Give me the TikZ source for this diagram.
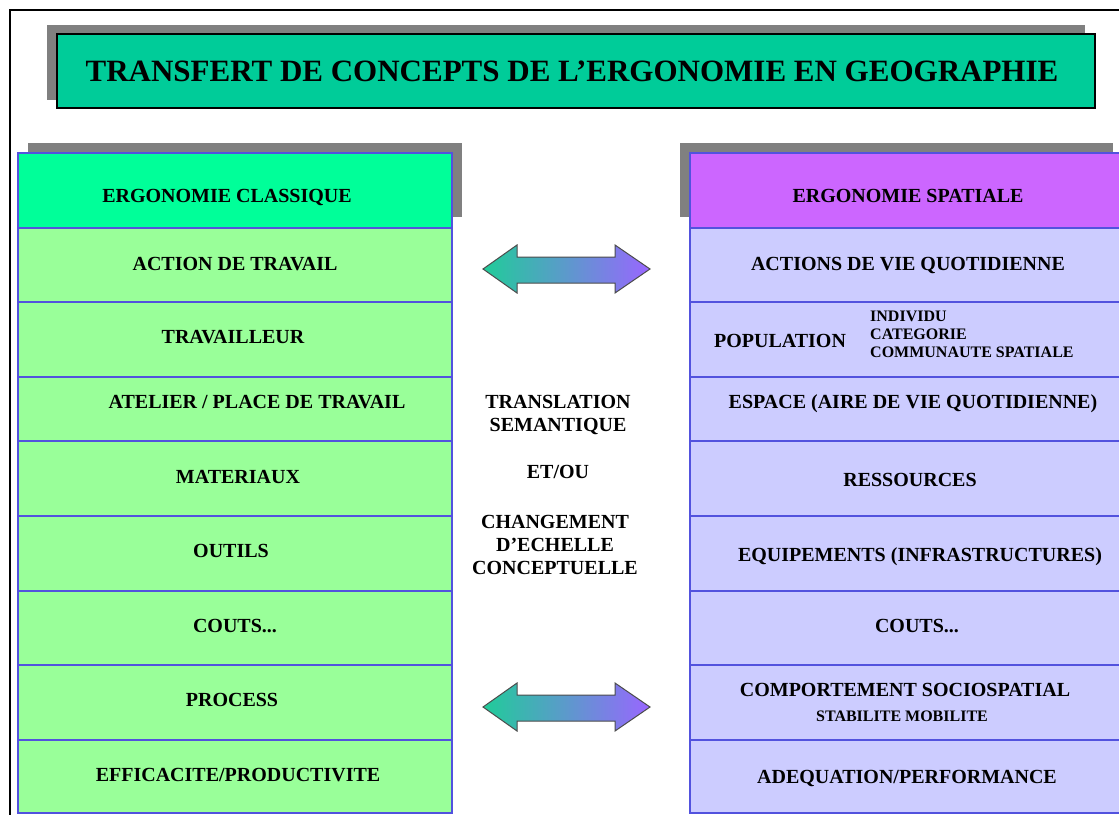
\documentclass[tikz,border=0pt]{standalone}
\usepackage{fontspec}
\setmainfont{Liberation Serif}
\usepackage{xcolor}

\definecolor{titlegreen}{HTML}{00CC99}
\definecolor{headgreen}{HTML}{00FF99}
\definecolor{cellgreen}{HTML}{99FF99}
\definecolor{headviolet}{HTML}{CC66FF}
\definecolor{cellviolet}{HTML}{CCCCFF}
\definecolor{gridblue}{HTML}{5252DE}
\definecolor{shadowgray}{HTML}{808080}
\definecolor{arrowgreen}{HTML}{20CC99}
\definecolor{arrowviolet}{HTML}{9966FF}

\tikzset{
	celltext/.style={font=\fontsize{20}{23}\selectfont\bfseries, align=center, inner sep=0pt, text height=13pt, text depth=0pt},
	smalltext/.style={font=\fontsize{16}{18}\selectfont\bfseries, align=left, inner sep=0pt, text height=10.5pt, text depth=0pt},
	cellbox/.style={draw=gridblue, line width=1.6pt},
	exchange/.style={draw=black!70, line width=1pt, left color=arrowgreen, right color=arrowviolet}
}

\begin{document}
\begin{tikzpicture}[x=1pt, y=-1pt]
	\clip (0,0) rectangle (1119,814);
	\fill[white] (0,0) rectangle (1119,814);
	\draw[line width=2pt] (9.5,820) -- (9.5,9.5) -- (1125,9.5);

	% title
	\fill[shadowgray] (47,25) rectangle (1085,100);
	\draw[fill=titlegreen, line width=1.5pt] (57,34) rectangle (1095,108);
	\node[celltext, font=\fontsize{31}{34}\selectfont\bfseries, text height=20pt] (title) at (572,71) {TRANSFERT DE CONCEPTS DE L'ERGONOMIE EN GEOGRAPHIE};

	% left column
	\fill[shadowgray] (28,143) rectangle (462,217);
	\draw[cellbox, fill=headgreen] (18,153) rectangle (452,228);
	\draw[cellbox, fill=cellgreen] (18,228) rectangle (452,302);
	\draw[cellbox, fill=cellgreen] (18,302) rectangle (452,377);
	\draw[cellbox, fill=cellgreen] (18,377) rectangle (452,441);
	\draw[cellbox, fill=cellgreen] (18,441) rectangle (452,516);
	\draw[cellbox, fill=cellgreen] (18,516) rectangle (452,591);
	\draw[cellbox, fill=cellgreen] (18,591) rectangle (452,665);
	\draw[cellbox, fill=cellgreen] (18,665) rectangle (452,740);
	\draw[cellbox, fill=cellgreen] (18,740) rectangle (452,813);

	\node[celltext] (classique) at (227,196) {ERGONOMIE CLASSIQUE};
	\node[celltext] (action) at (235,264) {ACTION DE TRAVAIL};
	\node[celltext] (travailleur) at (233,337) {TRAVAILLEUR};
	\node[celltext] (atelier) at (257,402) {ATELIER / PLACE DE TRAVAIL};
	\node[celltext] (materiaux) at (238,477) {MATERIAUX};
	\node[celltext] (outils) at (231,551) {OUTILS};
	\node[celltext] (coutsL) at (235,626) {COUTS...};
	\node[celltext] (process) at (232,700) {PROCESS};
	\node[celltext] (efficacite) at (238,775) {EFFICACITE/PRODUCTIVITE};

	% right column
	\fill[shadowgray] (680,143) rectangle (1113,217);
	\draw[cellbox, fill=headviolet] (690,153) rectangle (1125,228);
	\draw[cellbox, fill=cellviolet] (690,228) rectangle (1125,302);
	\draw[cellbox, fill=cellviolet] (690,302) rectangle (1125,377);
	\draw[cellbox, fill=cellviolet] (690,377) rectangle (1125,441);
	\draw[cellbox, fill=cellviolet] (690,441) rectangle (1125,516);
	\draw[cellbox, fill=cellviolet] (690,516) rectangle (1125,591);
	\draw[cellbox, fill=cellviolet] (690,591) rectangle (1125,665);
	\draw[cellbox, fill=cellviolet] (690,665) rectangle (1125,740);
	\draw[cellbox, fill=cellviolet] (690,740) rectangle (1125,813);

	\node[celltext] (spatiale) at (908,196) {ERGONOMIE SPATIALE};
	\node[celltext] (vie) at (908,264) {ACTIONS DE VIE QUOTIDIENNE};
	\node[celltext] (population) at (780,341) {POPULATION};
	\node[smalltext, anchor=west] (echelons) at (870,352) {INDIVIDU\\CATEGORIE\\COMMUNAUTE SPATIALE};
	\node[celltext] (espace) at (913,402) {ESPACE (AIRE DE VIE QUOTIDIENNE)};
	\node[celltext] (ressources) at (910,480) {RESSOURCES};
	\node[celltext] (equipements) at (920,555) {EQUIPEMENTS (INFRASTRUCTURES)};
	\node[celltext] (coutsR) at (917,626) {COUTS...};
	\node[celltext] (comportement) at (905,690) {COMPORTEMENT SOCIOSPATIAL};
	\node[smalltext, text height=10pt] (stabilite) at (902,716) {STABILITE MOBILITE};
	\node[celltext] (adequation) at (907,777) {ADEQUATION/PERFORMANCE};

	% middle
	\node[celltext] (translation) at (558,425) {TRANSLATION\\SEMANTIQUE};
	\node[celltext] (etou) at (558,472) {ET/OU};
	\node[celltext] (changement) at (555,568) {CHANGEMENT\\D'ECHELLE\\CONCEPTUELLE};

	\draw[exchange] (483,269) -- (517,245) -- (517,257) -- (615,257) -- (615,245) -- (650,269) -- (615,293) -- (615,283) -- (517,283) -- (517,293) -- cycle;
	\draw[exchange] (483,707) -- (517,683) -- (517,695) -- (615,695) -- (615,683) -- (650,707) -- (615,731) -- (615,721) -- (517,721) -- (517,731) -- cycle;
\end{tikzpicture}
\end{document}
